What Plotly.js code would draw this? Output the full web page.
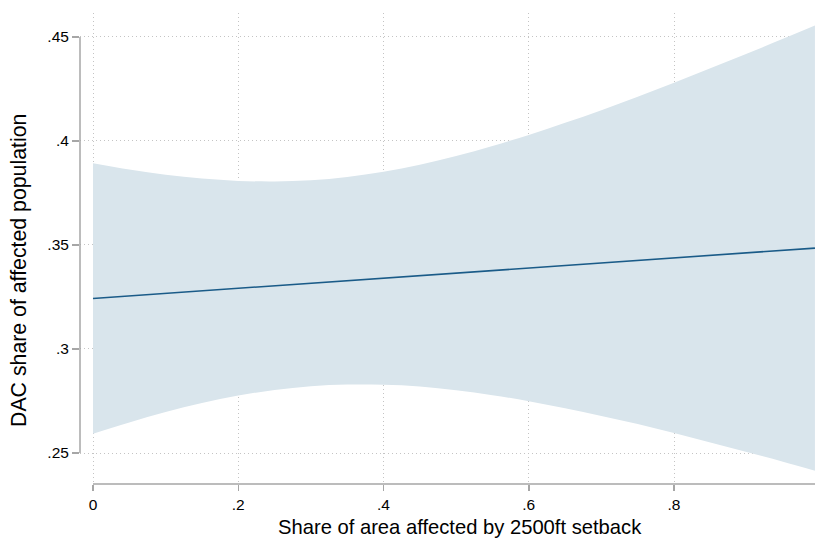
<!DOCTYPE html>
<html>
<head>
<meta charset="utf-8">
<script src="https://cdn.plot.ly/plotly-3.0.1.min.js"></script>
<style>html,body{margin:0;padding:0;background:#fff;}#chart{width:815px;height:539px;}</style>
</head>
<body>
<div id="chart"></div>
<script>
// Share of area affected (x) and estimated values
const xVals = [0, 0.05, 0.1, 0.15, 0.2, 0.25, 0.3, 0.35, 0.4, 0.45, 0.5, 0.55, 0.6, 0.65, 0.7, 0.75, 0.8, 0.85, 0.9, 0.95, 0.994];
const fitVals = [0.3243, 0.3255, 0.3267, 0.3280, 0.3292, 0.3304, 0.3316, 0.3328, 0.3340, 0.3353, 0.3365, 0.3377, 0.3389, 0.3401, 0.3413, 0.3426, 0.3438, 0.3450, 0.3462, 0.3474, 0.3485];
const upperVals = [0.3893, 0.3863, 0.3837, 0.3819, 0.3808, 0.3805, 0.3811, 0.3827, 0.3852, 0.3886, 0.3928, 0.3976, 0.4029, 0.4087, 0.4148, 0.4213, 0.4280, 0.4349, 0.4419, 0.4491, 0.4555];
const lowerVals = [0.2593, 0.2647, 0.2697, 0.2740, 0.2776, 0.2803, 0.2821, 0.2829, 0.2828, 0.2820, 0.2802, 0.2778, 0.2749, 0.2715, 0.2678, 0.2639, 0.2596, 0.2551, 0.2505, 0.2458, 0.2415];
const xTickVals = [0, 0.2, 0.4, 0.6, 0.8];
const xTickText = ["0", ".2", ".4", ".6", ".8"];
const yTickVals = [0.25, 0.3, 0.35, 0.4, 0.45];
const yTickText = [".25", ".3", ".35", ".4", ".45"];
const xTitle = "Share of area affected by 2500ft setback";
const yTitle = "DAC share of affected population";

const fillColor = "#d9e5ec";
const lineColor = "#1a5b88";
const axisColor = "#a6a6a6";
const gridColor = "#c4c4c4";

const traces = [
  {x: xVals, y: upperVals, type: "scatter", mode: "lines", line: {width: 0, shape: "spline"}, hoverinfo: "skip", showlegend: false},
  {x: xVals, y: lowerVals, type: "scatter", mode: "lines", line: {width: 0, shape: "spline"}, fill: "tonexty", fillcolor: fillColor, hoverinfo: "skip", showlegend: false},
  {x: xVals, y: fitVals, type: "scatter", mode: "lines", line: {color: lineColor, width: 1.6}, hoverinfo: "skip", showlegend: false}
];

const layout = {
  width: 815, height: 539,
  margin: {l: 80, r: 0, t: 13, b: 55, pad: 0},
  paper_bgcolor: "#ffffff", plot_bgcolor: "#ffffff",
  font: {family: "Liberation Sans, Arial, Helvetica, sans-serif", color: "#000000", size: 15},
  showlegend: false,
  xaxis: {
    range: [-0.0179, 0.9941], tickvals: xTickVals, ticktext: xTickText,
    showgrid: true, gridcolor: gridColor, griddash: "1px,3px", gridwidth: 1,
    zeroline: false, showline: false, ticks: "outside", ticklen: 6, tickwidth: 1.5, tickcolor: axisColor,
    tickfont: {size: 15.5}
  },
  yaxis: {
    range: [0.2351, 0.4615], tickvals: yTickVals, ticktext: yTickText,
    showgrid: true, gridcolor: gridColor, griddash: "1px,3px", gridwidth: 1,
    zeroline: false, showline: false, ticks: "outside", ticklen: 7, tickwidth: 1.5, tickcolor: axisColor,
    tickfont: {size: 15.5}
  },
  annotations: [
    {text: xTitle, xref: "paper", yref: "paper", x: 0.517, y: -0.091, xanchor: "center", yanchor: "middle", showarrow: false, font: {size: 20.2}},
    {text: yTitle, xref: "paper", yref: "paper", x: -0.083, y: 0.4544, xanchor: "center", yanchor: "middle", textangle: -90, showarrow: false, font: {size: 21.3}}
  ],
  shapes: [
    {type: "line", xref: "paper", yref: "y", x0: 0, x1: 0, y0: yTickVals[0], y1: yTickVals[yTickVals.length - 1], line: {color: axisColor, width: 1.5}, layer: "above"},
    {type: "line", xref: "x", yref: "paper", x0: xTickVals[0], x1: 0.9941, y0: 0, y1: 0, line: {color: axisColor, width: 1.5}, layer: "above"}
  ]
};

Plotly.newPlot("chart", traces, layout, {staticPlot: true, displayModeBar: false});
</script>
</body>
</html>
